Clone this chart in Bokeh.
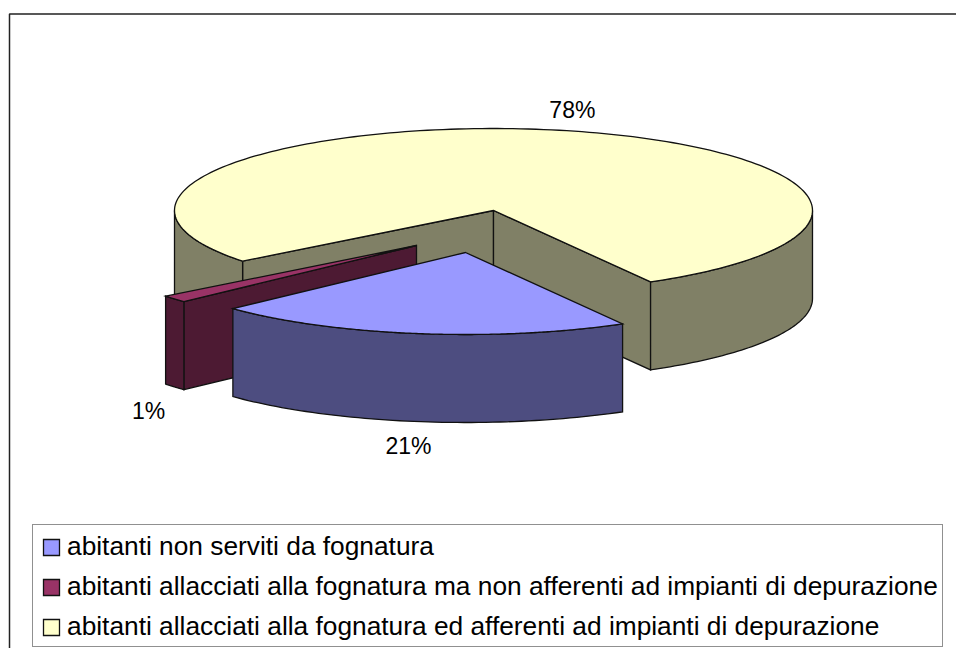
import numpy as np
from bokeh.core.properties import value
from bokeh.embed import file_html
from bokeh.models import Legend, LegendItem, Range1d
from bokeh.plotting import figure
from bokeh.resources import INLINE

# --- data ---
CATEGORIES = [
    "abitanti non serviti da fognatura",
    "abitanti allacciati alla fognatura ma non afferenti ad impianti di depurazione",
    "abitanti allacciati alla fognatura ed afferenti ad impianti di depurazione",
]
SHARES = [21.2, 1.4, 77.4]
PERCENT_LABELS = ["21%", "1%", "78%"]
TOP_COLORS = ["#9999FF", "#993366", "#FFFFCC"]
SIDE_COLORS = ["#4D4D80", "#4D1A33", "#808066"]

# --- geometry of the tilted pie, in page pixels ---
FIRST_ANGLE = 150.5
CX, CY, RX, RY, DEPTH = 493, 210, 319, 82, 88
EXPLODE = [(-28, 42), (-77, 35), (0, 0)]
LABEL_SHIFT = [(-9, 112), (-26, 112), (17, -20)]
FONT = "Liberation Sans"
INK = "#111111"

p = figure(width=956, height=648, output_backend="svg", toolbar_location=None,
           x_range=Range1d(0, 956), y_range=Range1d(648, 0), min_border=0,
           outline_line_color=None)
p.axis.visible = False
p.grid.visible = False

# outer chart frame: right and bottom edges fall outside the page
p.quad(left=9, right=990, top=13.5, bottom=690, fill_color="white", line_color="#222222", line_width=1.5)


def rim(theta, ox, oy, drop=0.0):
    t = np.radians(theta)
    return CX + ox + RX * np.sin(t), CY + oy - RY * np.cos(t) + drop


def poly(xs, ys, color):
    return p.patch(list(xs), list(ys), fill_color=color, line_color=INK, line_width=1.3,
                   line_join="miter")


def band(a, b, ox, oy, color):
    th = np.linspace(a, b, 60)
    x0, y0 = rim(th, ox, oy)
    x1, y1 = rim(th[::-1], ox, oy, DEPTH)
    poly(np.r_[x0, x1], np.r_[y0, y1], color)


def wall(theta, ox, oy, color):
    ax, ay = CX + ox, CY + oy
    ex, ey = rim(theta, ox, oy)
    poly([ax, ex, ex, ax], [ay, ey, ey + DEPTH, ay + DEPTH], color)


bounds = FIRST_ANGLE + np.r_[0, np.cumsum(SHARES)] * 3.6
spans = list(zip(bounds[:-1], bounds[1:]))
tops = [None, None, None]

# back to front: third slice, second, first
for i in (2, 1, 0):
    a, b = spans[i]
    ox, oy = EXPLODE[i]
    # cut faces are drawn only when they turn towards the viewer
    if np.sin(np.radians(a)) < 0:
        wall(a, ox, oy, SIDE_COLORS[i])
    if np.sin(np.radians(b)) > 0:
        wall(b, ox, oy, SIDE_COLORS[i])
    # outer rim, only the part turned to the viewer (90..270 degrees, modulo a turn)
    for k in (0, 360):
        lo, hi = max(a, 90 + k), min(b, 270 + k)
        if lo < hi:
            band(lo, hi, ox, oy, SIDE_COLORS[i])
    th = np.linspace(a, b, 200)
    x, y = rim(th, ox, oy)
    tops[i] = poly(np.r_[CX + ox, x], np.r_[CY + oy, y], TOP_COLORS[i])

# percentage labels
for i, label in enumerate(PERCENT_LABELS):
    a, b = spans[i]
    mx, my = rim((a + b) / 2, *EXPLODE[i])
    dx, dy = LABEL_SHIFT[i]
    p.text([mx + dx], [my + dy], text=[label], text_align="center", text_baseline="middle",
           text_font=value(FONT), text_font_size="23px", text_color="black")

legend = Legend(
    items=[LegendItem(label=c, renderers=[r]) for c, r in zip(CATEGORIES, tops)],
    location=(32, 1), orientation="vertical", margin=0,
    padding=dict(left=8, right=4, top=6, bottom=4), spacing=9,
    glyph_width=20, glyph_height=20, label_standoff=6, label_height=25,
    label_text_font=FONT, label_text_font_size="26.3px", label_text_color="black",
    border_line_color="#222222", border_line_width=1.5, background_fill_alpha=1,
)
p.add_layout(legend, "center")

open("out.html", "w").write(file_html(p, INLINE))
